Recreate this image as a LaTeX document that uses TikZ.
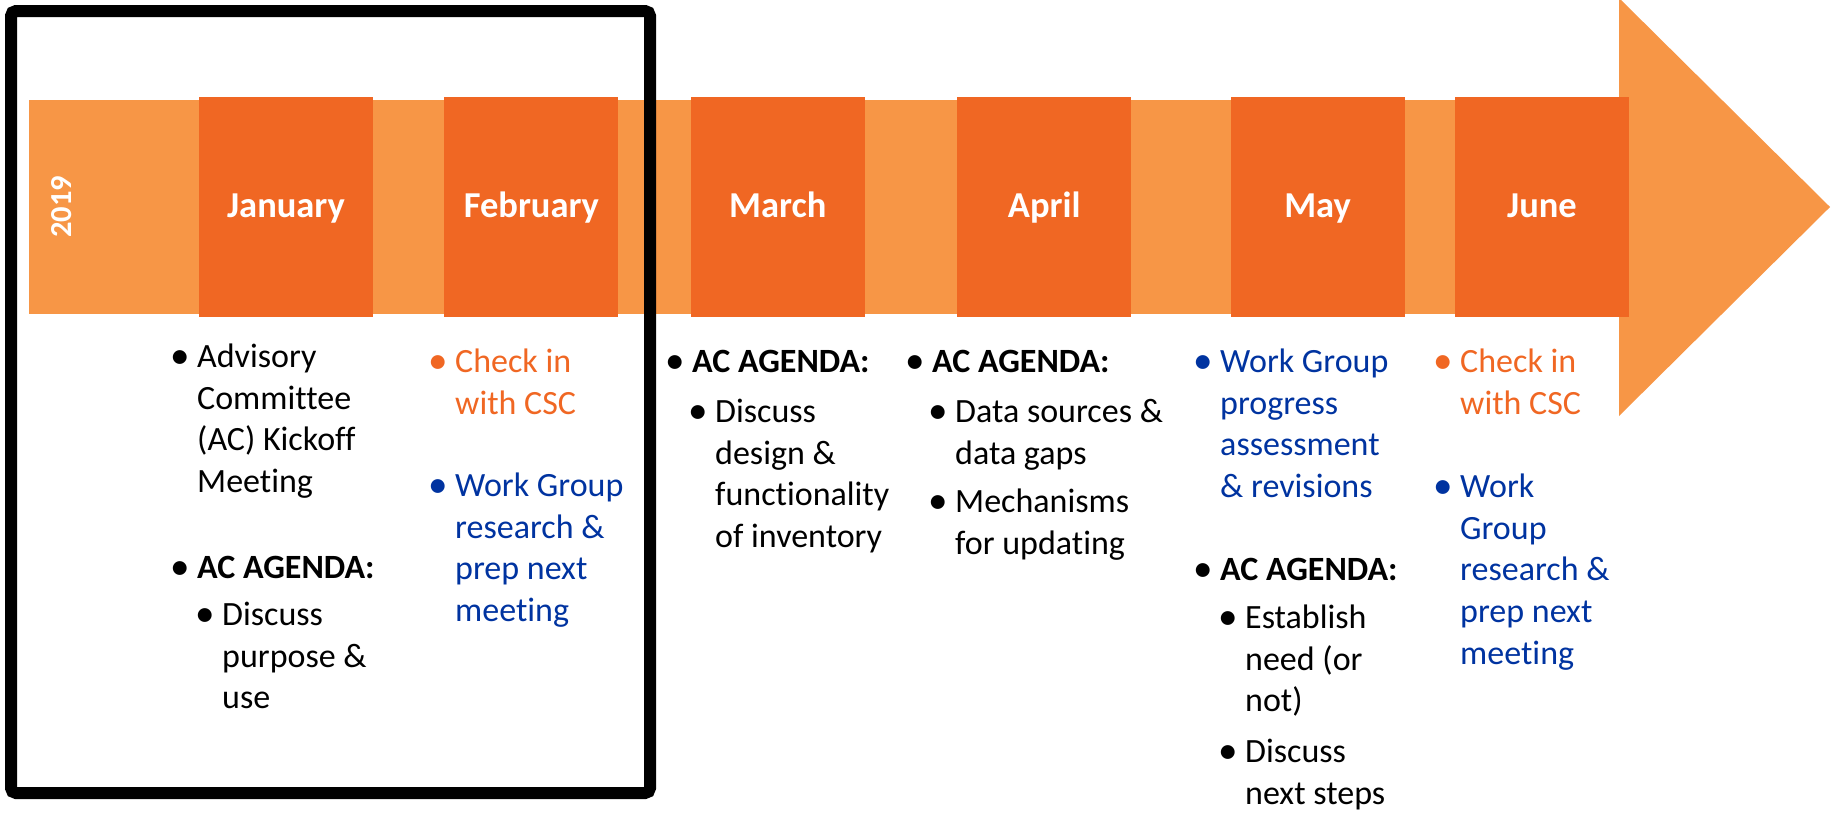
\documentclass[tikz,border=0pt]{standalone}
\usepackage{fontspec}
\usepackage{graphicx}
\setmainfont{Carlito}[Ligatures=NoCommon]
\usetikzlibrary{positioning}

\definecolor{bandorange}{RGB}{247,150,70}
\definecolor{boxorange}{RGB}{240,103,35}
\definecolor{wgblue}{RGB}{0,51,160}
\newcommand{\bul}{\llap{\raisebox{-1pt}{\scalebox{1.15}{\textbullet}}\hspace{7.5pt}}}

\begin{document}
\begin{tikzpicture}[x=1pt,y=-1pt,node distance=71pt,
  month/.style={fill=boxorange,text=white,inner sep=0pt,minimum width=174pt,minimum height=220pt,
    text height=26pt,text depth=6pt,font=\bfseries\fontsize{36.5}{44}\selectfont},
  note/.style={anchor=north west,inner sep=0pt,align=left,yshift=29.26pt,
    font=\fontsize{34}{41.8}\selectfont},
  csc/.style={note,text=boxorange},
  wg/.style={note,text=wgblue}]
  \useasboundingbox (0,0) rectangle (1841,812);
  % the arrow
  \fill[bandorange] (29,100) rectangle (1625,314);
  \fill[bandorange] (1619,-2) -- (1830,207) -- (1619,416) -- cycle;
  \node[rotate=90,anchor=base,text=white,font=\bfseries\fontsize{30.5}{36}\selectfont] (year) at (71,207) {2019};
  %
  \node[month] (jan) at (286,207) {January};
  \node[month,right=71pt of jan] (feb) {February};
  \node[month,right=72pt of feb] (mar) {March};
  \node[month,right=92pt of mar] (apr) {April};
  \node[month,right=99pt of apr] (may) {May};
  \node[month,right=50pt of may] (jun) {June};
  %
  \node[note] (janKickoff) at (197,367) {\strut\bul Advisory\\Committee\\(AC) Kickoff\\Meeting};
  \node[note] (janAgenda) at (197,578) {\strut\bul\textbf{AC AGENDA:}};
  \node[note] (janDiscuss) at (222,625) {\strut\bul Discuss\\purpose \&\\use};
  \node[csc] (febCheck) at (455,372) {\strut\bul Check in\\with CSC};
  \node[wg] (febWork) at (455,496) {\strut\bul Work Group\\research \&\\prep next\\meeting};
  \node[note] (marAgenda) at (692,372) {\strut\bul\textbf{AC AGENDA:}};
  \node[note] (marDiscuss) at (715,422) {\strut\bul Discuss\\design \&\\functionality\\of inventory};
  \node[note] (aprAgenda) at (932,372) {\strut\bul\textbf{AC AGENDA:}};
  \node[note] (aprData) at (955,422) {\strut\bul Data sources \&\\data gaps};
  \node[note] (aprMech) at (955,512) {\strut\bul Mechanisms\\for updating};
  \node[wg] (mayWork) at (1220,372) {\strut\bul Work Group\\progress\\assessment\\\& revisions};
  \node[note] (mayAgenda) at (1220,580) {\strut\bul\textbf{AC AGENDA:}};
  \node[note] (mayNeed) at (1245,628) {\strut\bul Establish\\need (or\\not)};
  \node[note] (mayNext) at (1245,762) {\strut\bul Discuss\\next steps};
  \node[csc] (junCheck) at (1460,372) {\strut\bul Check in\\with CSC};
  \node[wg] (junWork) at (1460,497) {\strut\bul Work\\Group\\research \&\\prep next\\meeting};
  % frame round the first two months
  \draw[line width=12pt,rounded corners=5pt] (11,11) rectangle (650,793);
\end{tikzpicture}
\end{document}
